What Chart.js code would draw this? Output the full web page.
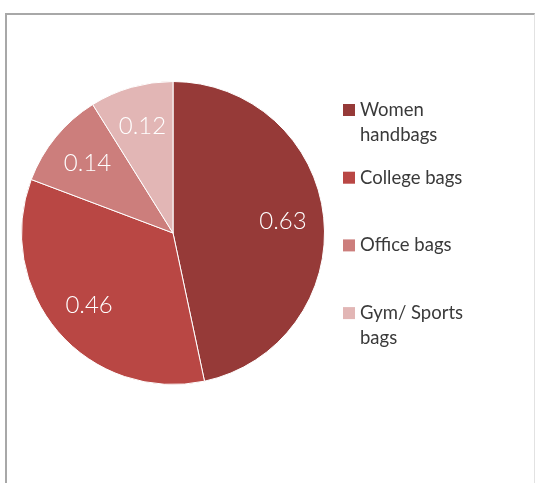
<!DOCTYPE html>
<html>
<head>
<meta charset="utf-8">
<script src="https://cdn.jsdelivr.net/npm/chart.js@4.4.1/dist/chart.umd.min.js"></script>
<style>
  html, body { margin: 0; padding: 0; background: #fff; }
  body { width: 537px; height: 483px; position: relative; overflow: hidden; }
  .frame {
    position: absolute; left: 5px; top: 13px; width: 527px; height: 480px;
    border-left: 2px solid #a8a8a8; border-top: 2px solid #a8a8a8; border-right: 1px solid #e2e2e2;
  }
  #chart { position: absolute; left: 0; top: 0; }
</style>
</head>
<body>
<div class="frame"></div>
<canvas id="chart" width="537" height="483"></canvas>
<script>
// pie data
const categories = [['Women', 'handbags'], ['College bags'], ['Office bags'], ['Gym/ Sports', 'bags']]
const values = [0.63, 0.46, 0.14, 0.12]
const sliceColors = ['#963a38', '#b94744', '#cc7e7c', '#e2b6b5']

// legend drawn beside the pie, one entry per slice
const sideLegend = {
    id: 'sideLegend',
    afterDraw(chart) {
        const ctx = chart.ctx
        const colors = chart.data.datasets[0].backgroundColor
        const x = 343, box = 12, step = 67.7, lineH = 25
        let y = 110
        ctx.save()
        ctx.font = '18.5px Lato, "Liberation Sans", sans-serif'
        ctx.textBaseline = 'middle'
        ctx.textAlign = 'left'
        chart.data.labels.forEach((label, i) => {
            ctx.fillStyle = colors[i]
            ctx.fillRect(x, y - box / 2, box, box)
            ctx.fillStyle = '#3a3a3a'
            label.forEach((line, j) => ctx.fillText(line, x + 17, y + j * lineH))
            y += step
        })
        ctx.restore()
    }
}

// value labels inside each slice
const sliceLabels = {
    id: 'sliceLabels',
    afterDatasetsDraw(chart) {
        const ctx = chart.ctx
        const meta = chart.getDatasetMeta(0)
        ctx.save()
        ctx.font = '300 24px Lato, "Liberation Sans", sans-serif'
        ctx.fillStyle = '#fff'
        ctx.textAlign = 'center'
        ctx.textBaseline = 'middle'
        meta.data.forEach((arc, i) => {
            const {x, y, startAngle, endAngle, outerRadius} = arc.getProps(['x', 'y', 'startAngle', 'endAngle', 'outerRadius'], true)
            const mid = (startAngle + endAngle) / 2
            const r = outerRadius * 0.73
            ctx.fillText(chart.data.datasets[0].data[i].toFixed(2), x + Math.cos(mid) * r, y + Math.sin(mid) * r)
        })
        ctx.restore()
    }
}

new Chart(document.getElementById('chart'), {
    type: 'pie',
    data: {
        labels: categories,
        datasets: [{
            data: values,
            backgroundColor: sliceColors,
            borderColor: '#ffffff',
            borderWidth: 1
        }]
    },
    options: {
        responsive: false,
        animation: false,
        layout: {
            padding: {left: 21, right: 212, top: 81, bottom: 98}
        },
        plugins: {
            legend: {display: false},
            tooltip: {enabled: false}
        }
    },
    plugins: [sliceLabels, sideLegend]
})
</script>
</body>
</html>
